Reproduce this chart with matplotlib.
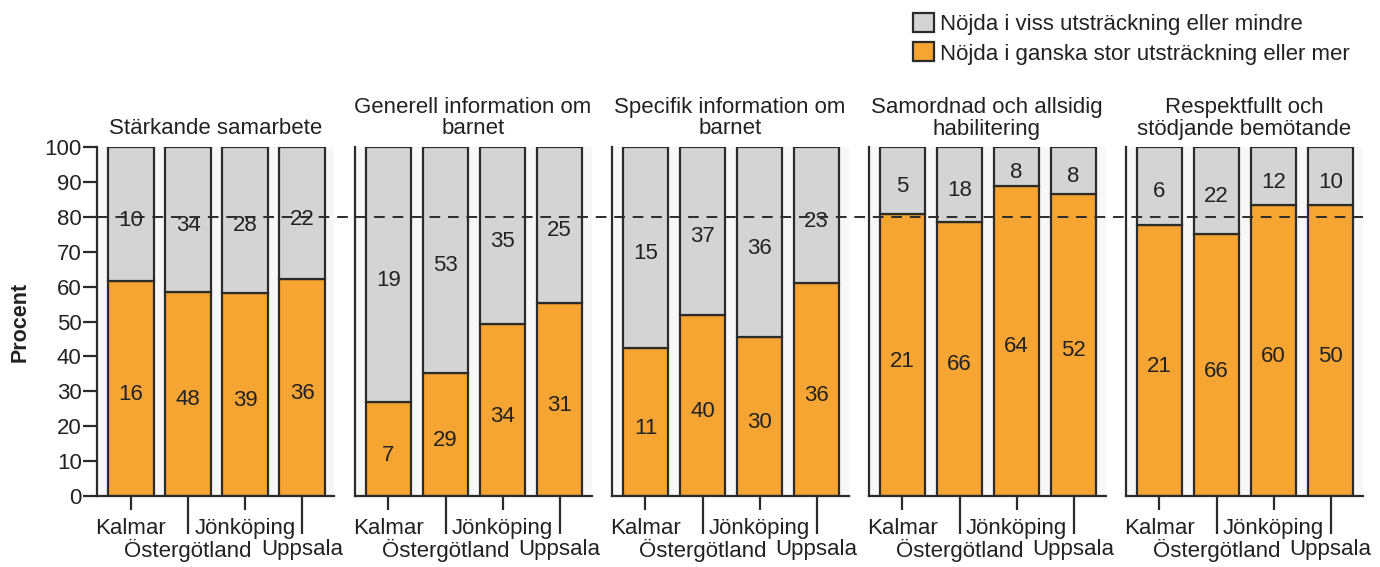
import numpy as np
import matplotlib
matplotlib.use("Agg")
import matplotlib.pyplot as plt
from matplotlib.patches import Patch
from matplotlib.lines import Line2D

plt.rcParams['font.family'] = ['Liberation Sans', 'DejaVu Sans']

regions = ['Kalmar', 'Östergötland', 'Jönköping', 'Uppsala']
titles = ['Stärkande samarbete',
          'Generell information om\nbarnet',
          'Specifik information om\nbarnet',
          'Samordnad och allsidig\nhabilitering',
          'Respektfullt och\nstödjande bemötande']

# counts per panel, order Kalmar, Östergötland, Jönköping, Uppsala
high = [[16, 48, 39, 36],
        [7, 29, 34, 31],
        [11, 40, 30, 36],
        [21, 66, 64, 52],
        [21, 66, 60, 50]]
low = [[10, 34, 28, 22],
       [19, 53, 35, 25],
       [15, 37, 36, 23],
       [5, 18, 8, 8],
       [6, 22, 12, 10]]

label_high = 'Nöjda i ganska stor utsträckning eller mer'
label_low = 'Nöjda i viss utsträckning eller mindre'

orange = '#F6A432'
grey = '#D4D4D4'
edge = '#2b2b2b'
txt = '#222222'
bg = '#F7F7F7'
fs = 16

W, H = 1380, 567
fig = plt.figure(figsize=(W / 100, H / 100), dpi=100)

lefts = [97, 354.5, 611.5, 868.5, 1125.5]
ax_w = 237
ax_bottom = 496
ax_top = 147

x = np.arange(len(regions))
axes = []
for i in range(5):
    ax = fig.add_axes([lefts[i] / W, 1 - ax_bottom / H, ax_w / W, (ax_bottom - ax_top) / H])
    axes.append(ax)
    ax.set_facecolor(bg)
    hi = np.array(high[i], dtype=float)
    lo = np.array(low[i], dtype=float)
    tot = hi + lo
    p_hi = hi / tot * 100
    p_lo = lo / tot * 100
    ax.bar(x, p_hi, width=0.8, color=orange, edgecolor=edge, linewidth=1.6, zorder=2)
    ax.bar(x, p_lo, bottom=p_hi, width=0.8, color=grey, edgecolor=edge, linewidth=1.6, zorder=2)
    for j in range(len(regions)):
        ax.text(x[j], p_hi[j] / 2 - 1, str(high[i][j]), ha='center', va='center_baseline',
                fontsize=fs, color=txt, zorder=4)
        ax.text(x[j], p_hi[j] + p_lo[j] / 2 - 1, str(low[i][j]), ha='center',
                va='center_baseline', fontsize=fs, color=txt, zorder=4)

    ax.set_xlim(-0.596, 3.56)
    ax.set_ylim(0, 100)
    for s in ['top', 'right']:
        ax.spines[s].set_visible(False)
    for s in ['left', 'bottom']:
        ax.spines[s].set_color(edge)
        ax.spines[s].set_linewidth(1.6)

    ax.set_xticks([0, 2])
    ax.set_xticklabels([regions[0], regions[2]])
    ax.set_xticks([1, 3], minor=True)
    ax.set_xticklabels([regions[1], regions[3]], minor=True)
    ax.tick_params(axis='x', which='major', length=10, width=1.6, color=edge,
                   labelsize=fs, labelcolor=txt, pad=5.5)
    ax.tick_params(axis='x', which='minor', length=27, width=1.6, color=edge,
                   labelsize=fs, labelcolor=txt, pad=4)
    ax.set_title(titles[i], fontsize=fs, color=txt, pad=9, linespacing=1.05)

    if i == 0:
        ax.set_yticks(np.arange(0, 101, 10))
        ax.tick_params(axis='y', length=10, width=1.6, color=edge,
                       labelsize=fs, labelcolor=txt, pad=1)
        ax.set_ylabel('Procent', fontsize=15.5, fontweight='bold', color=txt, labelpad=10)
    else:
        ax.set_yticks([])

# dashed reference line at 80 across all panels
y80 = 1 - (ax_bottom - 0.8 * (ax_bottom - ax_top)) / H
fig.add_artist(Line2D([lefts[0] / W, (lefts[-1] + ax_w) / W], [y80, y80],
                      transform=fig.transFigure, color=edge, linewidth=1.4,
                      linestyle=(0, (5.5, 4)), zorder=5))

handles = [Patch(facecolor=grey, edgecolor=edge, linewidth=1.6, label=label_low),
           Patch(facecolor=orange, edgecolor=edge, linewidth=1.6, label=label_high)]
fig.legend(handles=handles, loc='upper left', bbox_to_anchor=(913 / W, 1 - 13 / H),
           frameon=False, fontsize=fs, handlelength=0.95, handleheight=0.95,
           handletextpad=0.27, labelspacing=0.32, borderpad=0, borderaxespad=0,
           labelcolor=txt)

fig.savefig('out.png', dpi=100, facecolor='white')
